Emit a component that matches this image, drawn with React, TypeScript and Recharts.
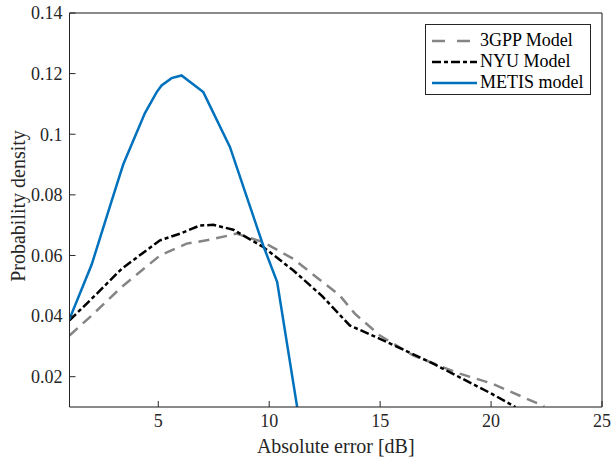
import { LineChart, Line, XAxis, YAxis, CartesianGrid } from "recharts";

const gppX = [1, 2, 3.35, 5.08, 6.28, 7.33, 8.53, 9.73, 11.08, 13.18, 13.86, 14.99, 16.49, 18.59, 20.02, 22.12, 22.4];
const gppY = [0.0336, 0.0402, 0.0496, 0.06, 0.0639, 0.0652, 0.0672, 0.0644, 0.0589, 0.0468, 0.0408, 0.0336, 0.027, 0.021, 0.0178, 0.0111, 0.0103];

const nyuX = [1, 2, 3.35, 5.08, 5.98, 6.88, 7.48, 8.38, 9.73, 11.08, 12.4, 13.63, 14.99, 17.39, 20.02, 21.1];
const nyuY = [0.0386, 0.0457, 0.0556, 0.065, 0.0672, 0.0699, 0.0701, 0.0685, 0.0628, 0.0551, 0.0465, 0.0369, 0.0325, 0.0243, 0.0144, 0.01];

const metisX = [1, 2.0, 2.9, 3.42, 4.4, 4.93, 5.15, 5.6, 6.05, 7.03, 8.23, 9.05, 9.73, 10.36, 11.26];
const metisY = [0.039, 0.057, 0.078, 0.09, 0.107, 0.1139, 0.1161, 0.1185, 0.1194, 0.1139, 0.0958, 0.078, 0.0633, 0.0512, 0.01];

const xTicks = [5, 10, 15, 20, 25];
const yTicks = [0.02, 0.04, 0.06, 0.08, 0.1, 0.12, 0.14];

const toPoints = (xs: number[], ys: number[]) => xs.map((x, i) => ({ x, y: ys[i] }));

const series = [
  { name: "3GPP Model", data: toPoints(gppX, gppY), color: "#858585", dash: "11 7", legendDash: "13 12", legendEnd: 44 },
  { name: "NYU Model", data: toPoints(nyuX, nyuY), color: "#000000", dash: "9 3 4 3", legendDash: "9 3 4 3", legendEnd: 51 },
  { name: "METIS model", data: toPoints(metisX, metisY), color: "#0072BD", dash: undefined, legendDash: undefined, legendEnd: 51 },
];

const font = "'Times New Roman', 'Liberation Serif', Times, serif";
const axisColor = "#262626";

function LegendBox() {
  return (
    <div
      style={{
        position: "absolute",
        left: 425,
        top: 24,
        border: `1px solid ${axisColor}`,
        background: "#fff",
        width: 166,
        height: 71,
        boxSizing: "border-box",
        paddingTop: 5,
        fontFamily: font,
        fontSize: 18,
        color: "#000",
      }}
    >
      {series.map((s) => (
        <div key={s.name} style={{ display: "flex", alignItems: "center", height: 21 }}>
          <svg width={54} height={21} style={{ flexShrink: 0 }}>
            <line x1={6} x2={s.legendEnd} y1={11} y2={11} stroke={s.color} strokeWidth={2.5} strokeDasharray={s.legendDash} />
          </svg>
          <span style={{ lineHeight: "21px" }}>{s.name}</span>
        </div>
      ))}
    </div>
  );
}

export default function App() {
  return (
    <div style={{ position: "relative", width: 613, height: 458, fontFamily: font }}>
      <style>{`body{margin:0}`}</style>
      <LineChart width={613} height={458} margin={{ top: 12, right: 10, left: 9.5, bottom: 0 }} style={{ fontFamily: font }}>
        <CartesianGrid stroke="#dedede" strokeWidth={1} />
        <XAxis
          xAxisId="b"
          dataKey="x"
          type="number"
          domain={[1, 25]}
          ticks={xTicks}
          allowDataOverflow
          height={51}
          tickSize={-6}
          tickMargin={13}
          stroke={axisColor}
          tick={{ fill: "#262626", fontSize: 18 }}
          label={{ value: "Absolute error [dB]", position: "insideBottom", offset: 5, fill: "#262626", fontSize: 20 }}
        />
        <XAxis
          xAxisId="t"
          orientation="top"
          dataKey="x"
          type="number"
          domain={[1, 25]}
          ticks={xTicks}
          allowDataOverflow
          height={1}
          tickSize={-6}
          tick={false}
          stroke={axisColor}
        />
        <YAxis
          yAxisId="l"
          type="number"
          domain={[0.01, 0.14]}
          ticks={yTicks}
          allowDataOverflow
          width={60}
          tickSize={-6}
          tickMargin={13}
          stroke={axisColor}
          tick={{ fill: "#262626", fontSize: 18 }}
          label={{ value: "Probability density", angle: -90, position: "center", dx: -22, dy: -4, fill: "#262626", fontSize: 20 }}
        />
        <YAxis
          yAxisId="r"
          orientation="right"
          type="number"
          domain={[0.01, 0.14]}
          ticks={yTicks}
          allowDataOverflow
          width={1}
          tickSize={-6}
          tick={false}
          stroke={axisColor}
        />
        {series.map((s) => (
          <Line
            key={s.name}
            xAxisId="b"
            yAxisId="l"
            data={s.data}
            dataKey="y"
            name={s.name}
            stroke={s.color}
            strokeWidth={2.5}
            strokeDasharray={s.dash}
            dot={false}
            isAnimationActive={false}
          />
        ))}
      </LineChart>
      <LegendBox />
    </div>
  );
}
